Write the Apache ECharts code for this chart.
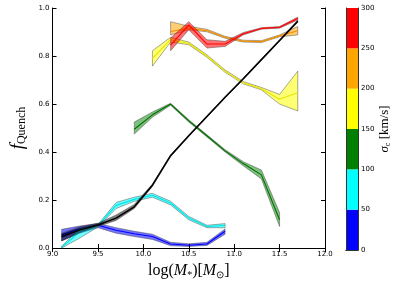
<!DOCTYPE html>
<html><head><meta charset="utf-8">
<script src="https://cdn.jsdelivr.net/npm/echarts@6/dist/echarts.min.js"></script>
<style>html,body{margin:0;padding:0;background:#fff}#c{width:407px;height:285px}</style>
</head><body><div id="c"></div>
<script>
// ---- data ----
const blueX   = [9.1, 9.3, 9.5, 9.7, 9.9, 10.1, 10.3, 10.5, 10.7, 10.9];
const blueLo  = [0.030, 0.062, 0.085, 0.062, 0.048, 0.036, 0.010, 0.007, 0.011, 0.058];
const blueHi  = [0.078, 0.092, 0.103, 0.085, 0.070, 0.058, 0.024, 0.018, 0.024, 0.080];
const blueMid = [0.055, 0.080, 0.095, 0.074, 0.060, 0.048, 0.017, 0.012, 0.017, 0.070];

const cyanX   = [9.1, 9.3, 9.5, 9.7, 9.9, 10.1, 10.3, 10.5, 10.7, 10.9];
const cyanLo  = [0.000, 0.042, 0.088, 0.165, 0.195, 0.212, 0.180, 0.118, 0.085, 0.085];
const cyanHi  = [0.008, 0.082, 0.098, 0.190, 0.212, 0.228, 0.195, 0.132, 0.095, 0.102];
const cyanMid = [0.003, 0.068, 0.093, 0.178, 0.203, 0.220, 0.188, 0.125, 0.090, 0.094];

const greenX   = [9.9, 10.1, 10.3, 10.5, 10.7, 10.9, 11.1, 11.3, 11.5];
const greenLo  = [0.475, 0.545, 0.595, 0.525, 0.463, 0.400, 0.343, 0.288, 0.090];
const greenHi  = [0.525, 0.567, 0.603, 0.535, 0.472, 0.410, 0.360, 0.325, 0.148];
const greenMid = [0.495, 0.555, 0.600, 0.530, 0.468, 0.405, 0.352, 0.305, 0.118];

const yellowX   = [10.1, 10.3, 10.5, 10.7, 10.9, 11.1, 11.3, 11.5, 11.7];
const yellowLo  = [0.758, 0.858, 0.847, 0.795, 0.732, 0.684, 0.659, 0.600, 0.571];
const yellowHi  = [0.822, 0.878, 0.858, 0.805, 0.742, 0.694, 0.669, 0.640, 0.737];
const yellowMid = [0.790, 0.868, 0.852, 0.800, 0.737, 0.689, 0.664, 0.620, 0.647];

const orangeX   = [10.3, 10.5, 10.7, 10.9, 11.1, 11.3, 11.5, 11.7];
const orangeLo  = [0.888, 0.909, 0.901, 0.874, 0.858, 0.856, 0.880, 0.888];
const orangeHi  = [0.943, 0.924, 0.911, 0.882, 0.866, 0.864, 0.888, 0.923];
const orangeMid = [0.902, 0.915, 0.905, 0.878, 0.862, 0.860, 0.884, 0.905];

const redX   = [10.3, 10.5, 10.7, 10.9, 11.1, 11.3, 11.5, 11.7];
const redLo  = [0.822, 0.909, 0.833, 0.840, 0.888, 0.912, 0.916, 0.950];
const redHi  = [0.875, 0.943, 0.868, 0.861, 0.898, 0.918, 0.923, 0.962];
const redMid = [0.845, 0.930, 0.850, 0.850, 0.893, 0.915, 0.920, 0.956];

const blackX   = [9.1, 9.3, 9.5, 9.7, 9.9, 10.1, 10.3, 10.5, 10.7, 10.9, 11.1, 11.3, 11.5, 11.7];
const blackLo  = [0.030, 0.064, 0.090, 0.115, 0.165, 0.257, 0.381, 0.465, 0.545, 0.625, 0.702, 0.782, 0.862, 0.940];
const blackHi  = [0.062, 0.088, 0.103, 0.138, 0.182, 0.267, 0.389, 0.471, 0.551, 0.631, 0.708, 0.788, 0.868, 0.950];
const blackMid = [0.047, 0.076, 0.096, 0.125, 0.172, 0.262, 0.385, 0.468, 0.548, 0.628, 0.705, 0.785, 0.865, 0.945];

const xTicks = ['9.0','9.5','10.0','10.5','11.0','11.5','12.0'];
const yTicks = ['0.0','0.2','0.4','0.6','0.8','1.0'];
const cbEdges  = [0, 50, 100, 150, 200, 250, 300];
const cbColors = ['#0000ff', '#00ffff', '#008000', '#ffff00', '#ffa500', '#ff0000'];

// ---- build ----
const bands = [
  {x: blueX, lo: blueLo, hi: blueHi, mid: blueMid, fill: 'rgba(0,0,255,0.55)', line: '#0000ff'},
  {x: cyanX, lo: cyanLo, hi: cyanHi, mid: cyanMid, fill: 'rgba(0,255,255,0.55)', line: '#00e5e5'},
  {x: greenX, lo: greenLo, hi: greenHi, mid: greenMid, fill: 'rgba(0,128,0,0.5)', line: '#007000'},
  {x: yellowX, lo: yellowLo, hi: yellowHi, mid: yellowMid, fill: 'rgba(255,255,0,0.55)', line: '#e6e600'},
  {x: orangeX, lo: orangeLo, hi: orangeHi, mid: orangeMid, fill: 'rgba(255,165,0,0.55)', line: '#f09000'},
  {x: redX, lo: redLo, hi: redHi, mid: redMid, fill: 'rgba(255,0,0,0.55)', line: '#ff0000'},
  {x: blackX, lo: blackLo, hi: blackHi, mid: blackMid, fill: 'rgba(0,0,0,0.5)', line: '#000000'}
];
const series = [];
let z = 2;
bands.forEach(b => {
  series.push({
    type: 'custom', xAxisIndex: 0, yAxisIndex: 0, z: z++, silent: true,
    data: [[b.x[0], b.lo[0]]],
    renderItem: function (params, api) {
      const pts = [];
      for (let i = 0; i < b.x.length; i++) pts.push(api.coord([b.x[i], b.hi[i]]));
      for (let i = b.x.length - 1; i >= 0; i--) pts.push(api.coord([b.x[i], b.lo[i]]));
      return {type: 'polygon', shape: {points: pts},
        style: {fill: b.fill, stroke: 'rgba(60,60,60,0.55)', lineWidth: 0.8}};
    }
  });
  series.push({
    type: 'line', xAxisIndex: 0, yAxisIndex: 0, z: z++, silent: true,
    showSymbol: false, symbol: 'none',
    data: b.x.map((x, i) => [x, b.mid[i]]),
    lineStyle: {color: b.line, width: b.line === '#000000' ? 1.5 : 1.1}
  });
});
cbColors.forEach((c, i) => {
  series.push({
    type: 'bar', xAxisIndex: 2, yAxisIndex: 2, stack: 'cb', barWidth: '100%',
    data: [cbEdges[i + 1] - cbEdges[i]], itemStyle: {color: c}, silent: true
  });
});

const tickFont = {fontSize: 7, color: '#000', fontFamily: 'DejaVu Sans'};
const serif = 'Liberation Serif';
const cbLine = {show: true, lineStyle: {color: '#333', width: 1}};
const option = {
  animation: false,
  grid: [
    {left: 40, top: 8, width: 285, height: 242},
    {left: 346, top: 8, width: 12, height: 242}
  ],
  xAxis: [
    {gridIndex: 0, type: 'value', min: 9, max: 12, interval: 0.5, position: 'bottom', z: 20,
     axisLine: {lineStyle: {color: '#000', width: 1}},
     axisTick: {inside: true, length: 4, lineStyle: {color: '#000'}},
     axisLabel: Object.assign({margin: 3, formatter: (v) => xTicks[Math.round((v - 9) / 0.5)]}, tickFont),
     splitLine: {show: false},
     name: '{t|log(}{i|M}{s|*}{t|)[}{i|M}{s|⊙}{t|]}', nameLocation: 'middle', nameGap: 7,
     nameTextStyle: {rich: {
       t: {fontFamily: serif, fontSize: 16, color: '#000'},
       i: {fontFamily: serif, fontStyle: 'italic', fontSize: 16, color: '#000'},
       s: {fontFamily: serif, fontSize: 10, color: '#000', padding: [8, 0, 0, 0]}
     }}},
    {gridIndex: 0, type: 'value', min: 9, max: 12, interval: 0.5, position: 'top', z: 20,
     axisLine: {lineStyle: {color: '#000', width: 1}},
     axisTick: {inside: true, length: 4, lineStyle: {color: '#000'}},
     axisLabel: {show: false}, splitLine: {show: false}},
    {gridIndex: 1, type: 'category', data: ['c'], z: 20, position: 'bottom',
     axisLine: cbLine, axisTick: {show: false}, axisLabel: {show: false}},
    {gridIndex: 1, type: 'category', data: ['c'], z: 20, position: 'top',
     axisLine: cbLine, axisTick: {show: false}, axisLabel: {show: false}}
  ],
  yAxis: [
    {gridIndex: 0, type: 'value', min: 0, max: 1, interval: 0.2, position: 'left', z: 20,
     axisLine: {show: true, lineStyle: {color: '#000', width: 1}},
     axisTick: {show: true, inside: true, length: 4, lineStyle: {color: '#000'}},
     axisLabel: Object.assign({margin: 3, formatter: (v) => yTicks[Math.round(v / 0.2)]}, tickFont),
     splitLine: {show: false},
     name: '{f|f}{s|Quench}', nameLocation: 'middle', nameGap: 18,
     nameTextStyle: {rich: {
       f: {fontFamily: serif, fontStyle: 'italic', fontSize: 19, color: '#000'},
       s: {fontFamily: serif, fontSize: 12, color: '#000', padding: [8, 0, 0, 0]}
     }}},
    {gridIndex: 0, type: 'value', min: 0, max: 1, interval: 0.2, position: 'right', z: 20,
     axisLine: {show: true, lineStyle: {color: '#000', width: 1}},
     axisTick: {show: true, inside: true, length: 4, lineStyle: {color: '#000'}},
     axisLabel: {show: false}, splitLine: {show: false}},
    {gridIndex: 1, type: 'value', min: 0, max: 300, interval: 50, position: 'right', z: 20,
     axisLine: cbLine, axisTick: {show: false},
     axisLabel: Object.assign({margin: 3}, tickFont),
     splitLine: {show: false},
     name: '{g|σ}{s|c}{t| [km/s]}', nameLocation: 'middle', nameGap: 18, nameRotate: 90,
     nameTextStyle: {rich: {
       g: {fontFamily: serif, fontStyle: 'italic', fontSize: 13, color: '#000'},
       s: {fontFamily: serif, fontSize: 8, color: '#000', padding: [6, 0, 0, 0]},
       t: {fontFamily: serif, fontSize: 13, color: '#000'}
     }}},
    {gridIndex: 1, type: 'value', min: 0, max: 300, interval: 50, position: 'left', z: 20,
     axisLine: cbLine, axisTick: {show: false}, axisLabel: {show: false}, splitLine: {show: false}}
  ],
  series: series
};
const chart = echarts.init(document.getElementById('c'), null, {renderer: 'canvas'});
chart.setOption(option);
</script></body></html>
